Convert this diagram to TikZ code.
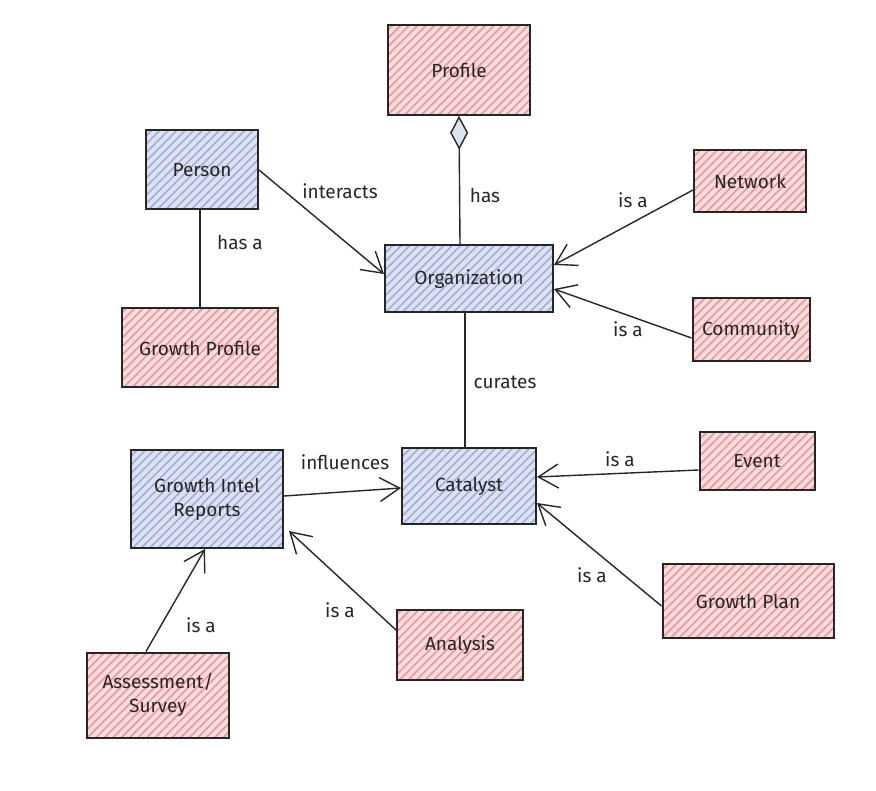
\documentclass[tikz,border=0pt]{standalone}
\usepackage{fontspec}
\setmainfont{Fira Sans}
\usetikzlibrary{arrows.meta,patterns.meta}

\definecolor{pinkbg}{HTML}{FADCDD}
\definecolor{pinkline}{HTML}{EC959C}
\definecolor{bluebg}{HTML}{DDE2F3}
\definecolor{blueline}{HTML}{A1ADD8}
\definecolor{ink}{HTML}{262626}

\tikzset{
    box/.style={draw=ink, line width=2pt, inner sep=0pt, align=center,
        font=\fontsize{19}{24}\selectfont, text=ink},
    pinkbox/.style={box, preaction={fill=pinkbg},
        pattern={Lines[angle=45,distance=6pt,line width=1.6pt]}, pattern color=pinkline},
    bluebox/.style={box, preaction={fill=bluebg},
        pattern={Lines[angle=45,distance=6pt,line width=1.6pt]}, pattern color=blueline},
    link/.style={draw=ink, line width=1.4pt},
    isa/.style={link, -{Straight Barb[length=20pt,width=24pt,line width=1.4pt]}},
    lbl/.style={font=\fontsize{19}{24}\selectfont, text=ink}
}

\begin{document}
\begin{tikzpicture}[x=1pt,y=-1pt]

    % canvas (pixel grid of the reference)
    \useasboundingbox (0,0) rectangle (876,791);

    % boxes
    \node[pinkbox, minimum width=142pt, minimum height=90pt] (profile) at (459,70) {Profile};
    \node[bluebox, minimum width=112pt, minimum height=79pt] (person) at (202,170) {Person};
    \node[pinkbox, minimum width=112pt, minimum height=62pt] (network) at (750,181) {Network};
    \node[bluebox, minimum width=168pt, minimum height=67pt] (org) at (469,279) {Organization};
    \node[pinkbox, minimum width=117pt, minimum height=63pt] (community) at (751,330) {Community};
    \node[pinkbox, minimum width=156pt, minimum height=79pt] (gprofile) at (200,348) {Growth Profile};
    \node[bluebox, minimum width=152pt, minimum height=98pt] (reports) at (207,499) {Growth Intel\\Reports};
    \node[bluebox, minimum width=134pt, minimum height=76pt] (catalyst) at (469,486) {Catalyst};
    \node[pinkbox, minimum width=115pt, minimum height=58pt] (event) at (757,461) {Event};
    \node[pinkbox, minimum width=171pt, minimum height=74pt] (gplan) at (748,601) {Growth Plan};
    \node[pinkbox, minimum width=126pt, minimum height=70pt] (analysis) at (460,645) {Analysis};
    \node[pinkbox, minimum width=142pt, minimum height=85pt] (survey) at (158,695) {Assessment/\\Survey};

    % plain links
    \draw[link] (gprofile.north |- person.south) -- (gprofile.north);
    \draw[link] ([xshift=-4pt]org.south) -- ([xshift=-4pt]catalyst.north);
    \draw[link, -{Diamond[length=34pt,width=18pt,fill=bluebg,line width=1.4pt]}]
        ([xshift=-9pt]org.north) -- (profile.south);

    % arrows
    \draw[isa] (person.east) -- ([yshift=5pt]org.west);
    \draw[isa] ([yshift=-9pt]network.west) -- ([yshift=14pt]org.east);
    \draw[isa] ([yshift=-8pt]community.west) -- ([yshift=-10pt]org.east);
    \draw[isa] ([yshift=3pt]reports.east) -- ([yshift=-2pt]catalyst.west);
    \draw[isa] ([yshift=-9pt]event.west) -- ([yshift=9pt]catalyst.east);
    \draw[isa] ([yshift=-5pt]gplan.west) -- ([yshift=-17pt]catalyst.east);
    \draw[isa] ([yshift=15pt]analysis.west) -- ([xshift=5pt,yshift=18pt]reports.south east);
    \draw[isa] ([xshift=-12pt]survey.north) -- ([xshift=-2pt]reports.south);

    % labels
    \node[lbl] (l-interacts) at (340,191) {interacts};
    \node[lbl] (l-hasa) at (240,243) {has a};
    \node[lbl] (l-has) at (485,196) {has};
    \node[lbl] (l-network) at (633,200) {is a};
    \node[lbl] (l-community) at (628,329) {is a};
    \node[lbl] (l-curates) at (505,382) {curates};
    \node[lbl] (l-influences) at (345,462) {influences};
    \node[lbl] (l-event) at (620,459) {is a};
    \node[lbl] (l-gplan) at (592,575) {is a};
    \node[lbl] (l-analysis) at (340,610) {is a};
    \node[lbl] (l-survey) at (201,625) {is a};

\end{tikzpicture}
\end{document}
